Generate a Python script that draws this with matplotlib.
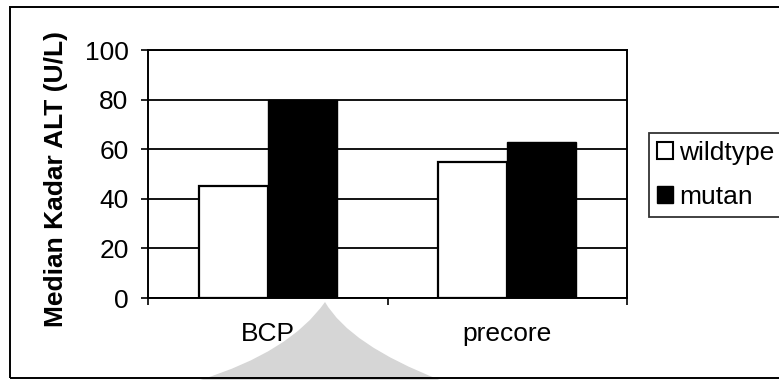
import numpy as np
import matplotlib
matplotlib.use("Agg")
import matplotlib.pyplot as plt
from matplotlib.patches import Patch, Rectangle, PathPatch
from matplotlib.path import Path

plt.rcParams["font.family"] = ["Liberation Sans", "DejaVu Sans"]

categories = ["BCP", "precore"]
wildtype = [45, 55]
mutan = [80, 63]
y_ticks = [0, 20, 40, 60, 80, 100]

W, H = 779, 380
fig = plt.figure(figsize=(W / 100, H / 100), dpi=100)
fig.patch.set_facecolor("white")

# plot area in pixel terms: left 148, right 627, top 50, bottom 298
ax = fig.add_axes([148 / W, 1 - 298 / H, (627 - 148) / W, (298 - 50) / H])

x = np.arange(len(categories))
width = 0.288
ax.bar(x - width / 2, wildtype, width, color="white", edgecolor="black", lw=1.6, zorder=3)
ax.bar(x + width / 2, mutan, width, color="black", edgecolor="black", lw=1.0, zorder=3)

ax.set_xlim(-0.5, len(categories) - 0.5)
ax.set_ylim(0, 100)
ax.set_yticks(y_ticks)
ax.set_yticklabels([str(v) for v in y_ticks], fontsize=19)
ax.set_xticks(x)
ax.set_xticklabels(categories, fontsize=19)
ax.set_xticks(np.arange(-0.5, len(categories)), minor=True)
ax.tick_params(axis="x", which="major", length=0, pad=17)
ax.tick_params(axis="x", which="minor", length=5, width=1.2, direction="out")
ax.tick_params(axis="y", length=5, width=1.2, direction="out", pad=9)

ax.yaxis.grid(True, color="black", lw=1.3)
ax.set_axisbelow(True)
for side in ["left", "right", "bottom", "top"]:
    ax.spines[side].set_color("black")
    ax.spines[side].set_linewidth(1.4)

ax.set_ylabel("Median Kadar ALT (U/L)", fontsize=19, fontweight="bold")
ax.yaxis.set_label_coords(-0.168, 0.48)

handles = [
    Patch(facecolor="white", edgecolor="black", lw=1.5, label="wildtype"),
    Patch(facecolor="black", edgecolor="black", label="mutan"),
]
leg = fig.legend(handles=handles, loc="upper left", bbox_to_anchor=(649 / W, 1 - 133 / H),
                 fontsize=19, frameon=True, fancybox=False, edgecolor="black",
                 handlelength=0.6, handleheight=0.6, handletextpad=0.25,
                 borderpad=0.3, labelspacing=0.75, borderaxespad=0)
leg.get_frame().set_linewidth(1.3)

# outer chart frame
fig.patches.append(Rectangle((10 / W, 2 / H), 800 / W, (378 - 7) / H, transform=fig.transFigure,
                             fill=False, edgecolor="black", lw=1.4, clip_on=False))

# light grey fold shape under the category labels
verts = [(200, 380), (290, 352), (325, 302), (350, 345), (440, 380), (200, 380)]
codes = [Path.MOVETO, Path.CURVE3, Path.CURVE3, Path.CURVE3, Path.CURVE3, Path.CLOSEPOLY]
verts = [(vx / W, 1 - vy / H) for vx, vy in verts]
fig.patches.append(PathPatch(Path(verts, codes), transform=fig.transFigure,
                             facecolor="#d6d6d6", edgecolor="none", zorder=0))

fig.savefig("out.png", dpi=100)
